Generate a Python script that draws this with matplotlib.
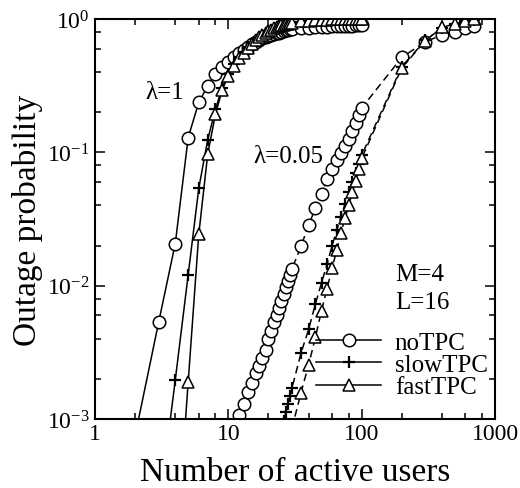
import matplotlib
matplotlib.use("Agg")
from matplotlib import pyplot as plt
from matplotlib import ticker
from matplotlib.lines import Line2D

plt.rcParams['font.family'] = ['Liberation Serif', 'DejaVu Serif']
plt.rcParams['mathtext.fontset'] = 'custom'
plt.rcParams['mathtext.rm'] = 'Liberation Serif'
plt.rcParams['mathtext.it'] = 'Liberation Serif:italic'
plt.rcParams['mathtext.bf'] = 'Liberation Serif:bold'

# lambda = 1 (solid lines)
x_no_1 = list(range(2, 31)) + list(range(35, 101, 5))
y_no_1 = [7.5e-4, 5.3e-3, 0.0207, 0.129, 0.237, 0.315, 0.386, 0.433, 0.472,
          0.515, 0.555, 0.59, 0.62, 0.65, 0.675, 0.695, 0.715, 0.73, 0.745,
          0.76, 0.77, 0.78, 0.79, 0.80, 0.81, 0.82, 0.83, 0.835, 0.84,
          0.85, 0.86, 0.865, 0.87, 0.875, 0.88, 0.88, 0.885, 0.885, 0.89,
          0.89, 0.895, 0.895, 0.90]

x_slow_1 = list(range(3, 31)) + list(range(35, 101, 5))
y_slow_1 = [2.0e-4, 1.96e-3, 0.0121, 0.0536, 0.124, 0.21, 0.306, 0.39,
            0.46, 0.52, 0.57, 0.62, 0.66, 0.70, 0.73, 0.76, 0.79, 0.81,
            0.83, 0.85, 0.865, 0.88, 0.89, 0.90, 0.91, 0.92, 0.93, 0.935,
            0.955, 0.965, 0.975, 0.98, 0.985, 0.988, 0.99, 0.992, 0.993,
            0.994, 0.995, 0.995, 0.996, 0.996]

x_fast_1 = list(range(4, 31)) + list(range(35, 101, 5))
y_fast_1 = [8.0e-5, 1.9e-3, 0.0242, 0.0966, 0.193, 0.294, 0.375, 0.446,
            0.51, 0.56, 0.61, 0.655, 0.695, 0.73, 0.76, 0.79, 0.81, 0.83,
            0.85, 0.87, 0.885, 0.895, 0.905, 0.915, 0.925, 0.935, 0.94,
            0.96, 0.97, 0.98, 0.985, 0.99, 0.992, 0.994, 0.995, 0.996,
            0.997, 0.997, 0.998, 0.998, 0.998]

# lambda = 0.05 (dashed lines)
x_no_005 = list(range(11, 31)) + list(range(35, 101, 5)) + list(range(200, 701, 100))
y_no_005 = [8.8e-4, 1.07e-3, 1.3e-3, 1.6e-3, 1.87e-3, 2.2e-3, 2.5e-3,
            2.85e-3, 3.3e-3, 4.0e-3, 4.6e-3, 5.3e-3, 6.0e-3, 6.8e-3,
            7.7e-3, 8.7e-3, 9.7e-3, 0.0108, 0.012, 0.0133,
            0.0197, 0.0283, 0.0384, 0.049, 0.0627, 0.0754, 0.0875, 0.0995,
            0.111, 0.125, 0.145, 0.165, 0.19, 0.215,
            0.515, 0.675, 0.758, 0.803, 0.851, 0.88]

x_slow_005 = list(range(26, 31)) + list(range(35, 101, 5)) + list(range(200, 701, 100))
y_slow_005 = [9.7e-4, 1.13e-3, 1.3e-3, 1.49e-3, 1.7e-3,
              3.1e-3, 4.7e-3, 7.3e-3, 0.0105, 0.0145, 0.02, 0.026, 0.033,
              0.041, 0.05, 0.06, 0.07, 0.082, 0.095,
              0.44, 0.69, 0.86, 0.925, 0.97, 0.99]

x_fast_005 = [30] + list(range(35, 101, 5)) + list(range(200, 701, 100))
y_fast_005 = [8.5e-4, 1.56e-3, 2.55e-3, 4.1e-3, 6.5e-3, 9.5e-3, 0.0135,
              0.0185, 0.025, 0.032, 0.04, 0.05, 0.061, 0.075, 0.09,
              0.43, 0.687, 0.866, 0.917, 0.97, 1.0]

W, H = 520, 489
fig = plt.figure(figsize=(W / 100, H / 100), dpi=100)
ax = fig.add_axes([95 / W, 69 / H, 400 / W, 400 / H])

lw = 1.1
circ = dict(marker='o', ms=9, mfc='white', mec='black', mew=1.1)
plus = dict(marker='+', ms=9, mec='black', mew=1.6)
tri = dict(marker='^', ms=8, mfc='white', mec='black', mew=1.1)
dash = (0, (5, 3))

ax.plot(x_no_1, y_no_1, color='black', lw=lw, **circ)
ax.plot(x_slow_1, y_slow_1, color='black', lw=lw, **plus)
ax.plot(x_fast_1, y_fast_1, color='black', lw=lw, **tri)

ax.plot(x_no_005, y_no_005, color='black', lw=lw, ls=dash, **circ)
ax.plot(x_slow_005, y_slow_005, color='black', lw=lw, ls=dash, **plus)
ax.plot(x_fast_005, y_fast_005, color='black', lw=lw, ls=dash, **tri)

ax.set_xscale('log')
ax.set_yscale('log')
ax.set_xlim(1, 1000)
ax.set_ylim(1e-3, 1)

ax.xaxis.set_major_locator(ticker.LogLocator(base=10, numticks=10))
ax.xaxis.set_minor_locator(ticker.LogLocator(base=10, subs=(2, 4, 6, 8), numticks=10))
ax.yaxis.set_major_locator(ticker.LogLocator(base=10, numticks=10))
ax.yaxis.set_minor_locator(ticker.LogLocator(base=10, subs=(2, 4, 6, 8), numticks=10))
ax.xaxis.set_major_formatter(ticker.FuncFormatter(lambda v, p: '%g' % v))
ax.xaxis.set_minor_formatter(ticker.NullFormatter())
ax.yaxis.set_minor_formatter(ticker.NullFormatter())

ax.tick_params(which='both', direction='in', top=True, right=True, width=1.1)
ax.tick_params(which='major', length=7.5, labelsize=17)
ax.tick_params(axis='x', which='major', pad=3)
ax.tick_params(axis='y', which='major', pad=4)
ax.tick_params(which='minor', length=4)
for s in ax.spines.values():
    s.set_linewidth(1.5)

ax.set_xlabel('Number of active users', fontsize=24)
ax.set_ylabel('Outage probability', fontsize=24)
ax.xaxis.set_label_coords(0.5, -0.095)
ax.yaxis.set_label_coords(-0.13, 0.5)

ax.text(0.125, 0.8175, 'λ=1', transform=ax.transAxes, fontsize=18, va='center')
ax.text(0.395, 0.6575, 'λ=0.05', transform=ax.transAxes, fontsize=18, va='center')
ax.text(0.75, 0.3625, 'M=4', transform=ax.transAxes, fontsize=18, va='center')
ax.text(0.75, 0.2925, 'L=16', transform=ax.transAxes, fontsize=18, va='center')

handles = [Line2D([], [], color='black', lw=lw, **circ),
           Line2D([], [], color='black', lw=lw, **plus),
           Line2D([], [], color='black', lw=lw, **tri)]
ax.legend(handles, ['noTPC', 'slowTPC', 'fastTPC'], loc='upper left',
          bbox_to_anchor=(0.5525, 0.22), frameon=False, fontsize=18,
          handlelength=2.6, handletextpad=0.55, labelspacing=0.0,
          borderpad=0, borderaxespad=0, numpoints=1)

fig.savefig('out.png', dpi=100)
